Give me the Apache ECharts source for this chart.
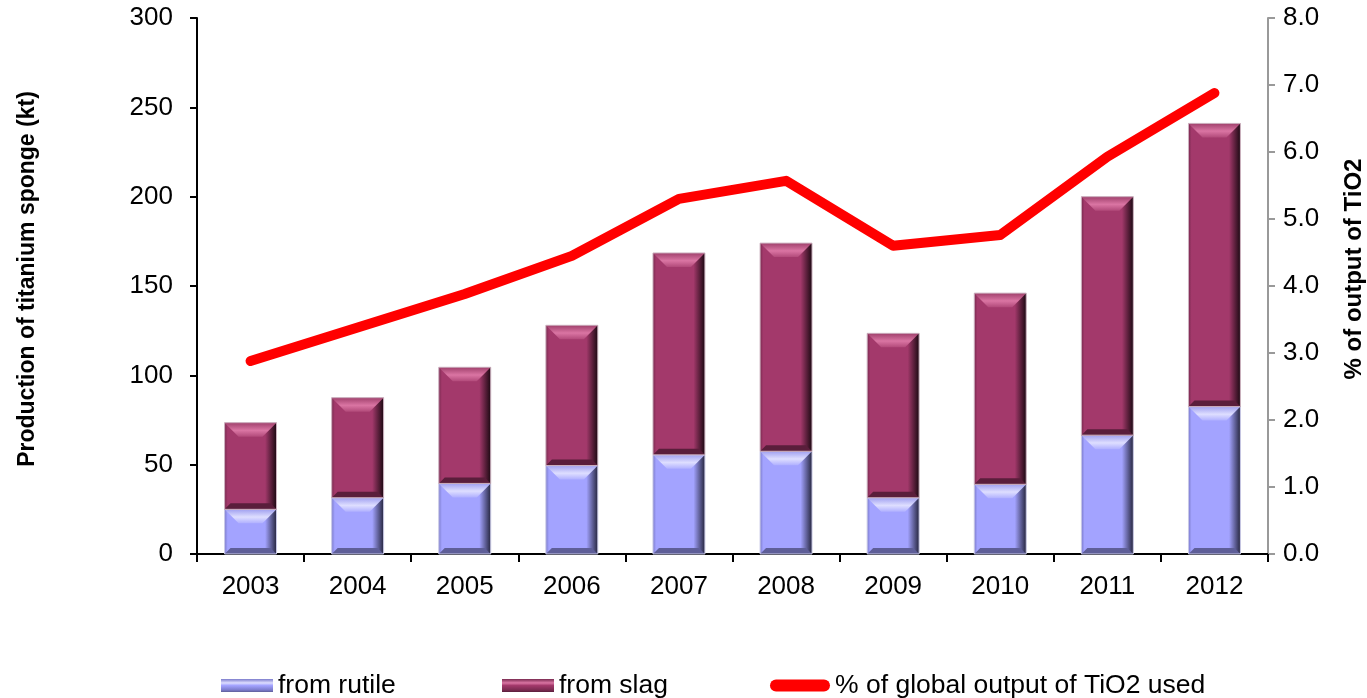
<!DOCTYPE html>
<html><head><meta charset="utf-8">
<script src="https://cdn.jsdelivr.net/npm/echarts@6.0.0/dist/echarts.min.js"></script>
<style>html,body{margin:0;padding:0;background:#fff}#c{width:1367px;height:698px}</style>
</head><body><div id="c"></div>
<script>
const years = ['2003','2004','2005','2006','2007','2008','2009','2010','2011','2012'];
const fromRutile = [25, 31.5, 39.5, 49.5, 55.5, 57.5, 31.5, 39, 66.5, 82.5];
const fromSlag = [48.5, 56, 65, 78.5, 113, 116.5, 92, 107, 133.5, 158.5];
const pctTiO2 = [2.88, 3.38, 3.88, 4.45, 5.3, 5.57, 4.6, 4.76, 5.93, 6.88];

const FONT = 'Liberation Sans, Arial, sans-serif';
const LG = echarts.graphic.LinearGradient;

const palRutile = {main:'#A3A3FF', left:'#7B7BCC', right:'#26263F', topA:'#A0A0F0', topB:'#DEDEFF', topC:'#B0B0FF', bottom:'#5E5E98', stroke:'#C9C9E6'};
const palSlag = {main:'#A3396B', left:'#7A2A50', right:'#1C0912', topA:'#A0406C', topB:'#DA75A3', topC:'#B24A7A', bottom:'#5A1E3B', stroke:'#CDB2C0'};

const rutileData = years.map((y, i) => [i, fromRutile[i], 0]);
const slagData = years.map((y, i) => [i, fromRutile[i] + fromSlag[i], fromRutile[i]]);

function bevel(pal) {
  return function (params, api) {
    const x = api.value(0), top = api.value(1), base = api.value(2);
    const pT = api.coord([x, top]);
    const pB = api.coord([x, base]);
    const bw = api.size([1, 0])[0] * 0.485;
    const x0 = pT[0] - bw / 2, x1 = pT[0] + bw / 2;
    const y0 = pT[1], y1 = pB[1];
    const h = y1 - y0;
    const b = Math.min(14, h / 2);
    const bb = Math.min(6, h / 4);
    return {
      type: 'group',
      children: [
        {type: 'rect', shape: {x: x0, y: y0, width: bw, height: h},
          style: {fill: new LG(0, 0, 1, 0, [
            {offset: 0, color: pal.left}, {offset: 0.06, color: pal.main},
            {offset: 0.78, color: pal.main}, {offset: 1, color: pal.right}])}},
        {type: 'polygon', shape: {points: [[x0, y0], [x1, y0], [x1 - b, y0 + b], [x0 + b, y0 + b]]},
          style: {fill: new LG(0, 0, 0, 1, [
            {offset: 0, color: pal.topA}, {offset: 0.55, color: pal.topB}, {offset: 1, color: pal.topC}])}},
        {type: 'polygon', shape: {points: [[x0, y1], [x1, y1], [x1 - bb, y1 - bb], [x0 + bb, y1 - bb]]},
          style: {fill: pal.bottom}},
        {type: 'rect', shape: {x: x0, y: y0, width: bw, height: h},
          style: {fill: 'none', stroke: pal.stroke, lineWidth: 1}}
      ]
    };
  };
}

function legendGrad(pal) {
  return new LG(0, 0, 0, 1, [
    {offset: 0, color: pal.left}, {offset: 0.3, color: pal.topB},
    {offset: 0.5, color: pal.main}, {offset: 0.85, color: pal.left}, {offset: 1, color: pal.bottom}]);
}

const chart = echarts.init(document.getElementById('c'), null, {renderer: 'canvas'});
chart.setOption({
  animation: false,
  backgroundColor: '#fff',
  textStyle: {fontFamily: FONT},
  grid: {left: 197, right: 99, top: 18, bottom: 144, containLabel: false, outerBoundsMode: 'none'},
  legend: [
    {left: 221, top: 672, padding: 0, itemWidth: 52, itemHeight: 13, itemGap: 0,
      textStyle: {fontSize: 26.5, color: '#000', fontFamily: FONT},
      data: [{name: 'from rutile', icon: 'rect', itemStyle: {color: legendGrad(palRutile)}}]},
    {left: 502, top: 672, padding: 0, itemWidth: 52, itemHeight: 13, itemGap: 0,
      textStyle: {fontSize: 26.5, color: '#000', fontFamily: FONT},
      data: [{name: 'from slag', icon: 'rect', itemStyle: {color: legendGrad(palSlag)}}]},
    {left: 770, top: 672, padding: 0, itemWidth: 60, itemHeight: 12, itemGap: 0,
      textStyle: {fontSize: 26.5, color: '#000', fontFamily: FONT},
      data: [{name: '% of global output of TiO2 used',
        icon: 'path://M6,0 L54,0 A6,6 0 0 1 54,12 L6,12 A6,6 0 0 1 6,0 Z',
        itemStyle: {color: '#FF0000'}}]}
  ],
  xAxis: {
    type: 'category', data: years,
    axisLine: {lineStyle: {color: '#000', width: 2}},
    axisTick: {show: true, length: 8, lineStyle: {color: '#000', width: 2}},
    axisLabel: {fontSize: 26, color: '#000', margin: 20, fontFamily: FONT},
    splitLine: {show: false}
  },
  yAxis: [
    {type: 'value', min: 0, max: 300, interval: 50, position: 'left',
      name: 'Production of titanium sponge (kt)', nameLocation: 'middle', nameGap: 158, nameRotate: 90,
      nameTextStyle: {fontSize: 23, fontWeight: 'bold', color: '#000', fontFamily: FONT, padding: [0, 0, 0, 14]},
      axisLine: {show: true, lineStyle: {color: '#000', width: 2}},
      axisTick: {show: true, length: 7, lineStyle: {color: '#000', width: 2}},
      axisLabel: {fontSize: 26, color: '#000', margin: 24, fontFamily: FONT},
      splitLine: {show: false}},
    {type: 'value', min: 0, max: 8, interval: 1, position: 'right',
      name: '% of output of TiO2', nameLocation: 'middle', nameGap: 74, nameRotate: 90,
      nameTextStyle: {fontSize: 24, fontWeight: 'bold', color: '#000', fontFamily: FONT, padding: [0, 0, 0, 34]},
      axisLine: {show: true, lineStyle: {color: '#999', width: 2}},
      axisTick: {show: true, length: 7, lineStyle: {color: '#999', width: 2}},
      axisLabel: {fontSize: 26, color: '#000', margin: 15, fontFamily: FONT,
        formatter: v => v.toFixed(1)},
      splitLine: {show: false}}
  ],
  series: [
    {name: 'from rutile', type: 'custom', renderItem: bevel(palRutile), data: rutileData,
      encode: {x: 0, y: [1, 2]}, itemStyle: {color: palRutile.main}, z: 2},
    {name: 'from slag', type: 'custom', renderItem: bevel(palSlag), data: slagData,
      encode: {x: 0, y: [1, 2]}, itemStyle: {color: palSlag.main}, z: 2},
    {name: '% of global output of TiO2 used', type: 'line', yAxisIndex: 1, data: pctTiO2,
      symbol: 'none', lineStyle: {color: '#FF0000', width: 10, cap: 'round', join: 'round'},
      itemStyle: {color: '#FF0000'}, z: 5}
  ]
});
</script>
</body></html>
